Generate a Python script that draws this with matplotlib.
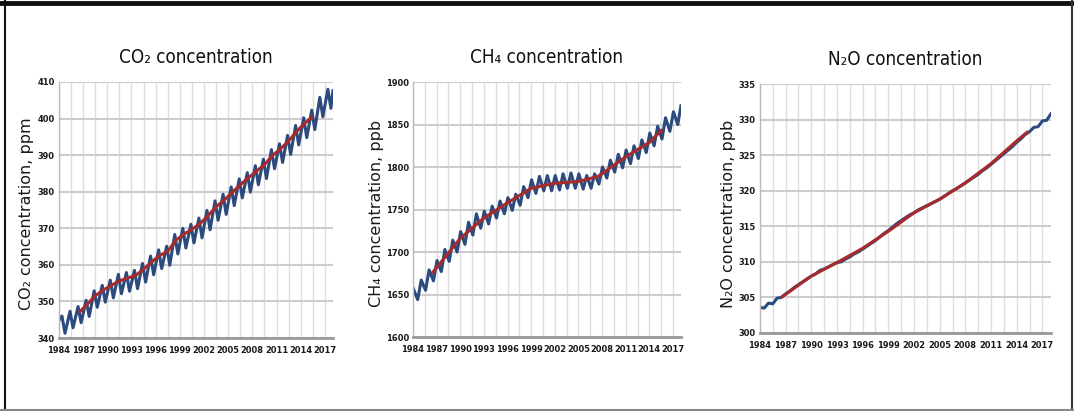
import matplotlib
matplotlib.use("Agg")
import matplotlib.pyplot as plt
from matplotlib import font_manager
from matplotlib.font_manager import FontProperties
from matplotlib.lines import Line2D

# --- data ------------------------------------------------------------------
years = list(range(1984, 2018))

# CO2 (ppm): spring peaks and autumn troughs per year
co2_peak = [346.0, 347.3, 348.6, 350.3, 352.9, 354.4, 355.8, 357.4, 357.9, 358.5,
            360.4, 362.4, 364.1, 365.1, 368.3, 370.0, 371.1, 372.8, 374.9, 377.5,
            379.3, 381.3, 383.5, 385.2, 387.1, 388.9, 391.5, 393.1, 395.4, 398.1,
            400.2, 402.3, 405.8, 408.0]
co2_trough = [341.3, 342.8, 344.2, 345.9, 348.4, 349.8, 351.0, 352.1, 352.8, 353.5,
              355.3, 357.3, 359.0, 359.9, 363.0, 364.6, 366.0, 367.4, 369.6, 372.2,
              373.8, 376.2, 378.3, 379.9, 381.9, 383.6, 386.3, 388.0, 390.2, 392.8,
              394.8, 397.0, 400.5, 402.8]
co2_start, co2_end = 344.8, 407.6
co2_trend_x = [1986.6] + [y + 0.5 for y in range(1987, 2015)] + [2015.4]
co2_trend = [347.2, 349.2, 351.6, 353.1, 354.4, 355.6, 356.4, 357.1, 358.8, 360.8,
             362.6, 363.7, 366.7, 368.4, 369.7, 371.3, 373.4, 375.9, 377.7, 379.8,
             381.9, 383.8, 385.6, 387.4, 389.9, 391.7, 393.9, 396.5, 398.7, 400.4]

# CH4 (ppb): winter peaks and summer troughs per year
ch4_peak = [1657, 1667, 1679, 1690, 1703, 1714, 1724, 1735, 1745, 1748,
            1754, 1760, 1764, 1768, 1777, 1785, 1789, 1790, 1790, 1792,
            1793, 1792, 1790, 1792, 1800, 1808, 1815, 1820, 1825, 1832,
            1840, 1848, 1858, 1865]
ch4_trough = [1644, 1655, 1666, 1677, 1689, 1700, 1709, 1720, 1728, 1733,
              1740, 1745, 1749, 1755, 1764, 1769, 1772, 1772, 1773, 1775,
              1775, 1774, 1775, 1780, 1787, 1794, 1799, 1804, 1810, 1817,
              1825, 1833, 1842, 1850]
ch4_end = 1872
ch4_trend_x = [1986.5, 1990, 1993, 1996, 1999, 2002, 2005, 2007.5, 2011, 2014, 2015.5]
ch4_trend = [1676, 1716, 1740, 1758, 1775, 1781, 1783, 1789, 1812, 1829, 1843]

# N2O (ppb): half-yearly values
n2o_x = [1984 + 0.5 * i for i in range(69)]
n2o = [303.6, 303.5, 304.2, 304.1, 304.9, 305.0, 305.5, 305.9, 306.4, 306.8,
       307.2, 307.6, 308.0, 308.3, 308.8, 309.0, 309.3, 309.6, 309.9, 310.0,
       310.4, 310.7, 311.1, 311.4, 311.8, 312.2, 312.6, 313.0, 313.5, 314.0,
       314.4, 314.9, 315.4, 315.8, 316.2, 316.6, 316.9, 317.3, 317.6, 317.9,
       318.2, 318.5, 318.8, 319.2, 319.6, 320.0, 320.3, 320.7, 321.1, 321.5,
       321.9, 322.3, 322.8, 323.2, 323.7, 324.2, 324.7, 325.2, 325.7, 326.2,
       326.8, 327.3, 327.9, 328.3, 328.9, 329.0, 329.8, 329.9, 330.8]
n2o_trend_x = [1986.6, 1990, 1993, 1996, 1999, 2002, 2005, 2008, 2011, 2014, 2015.2]
n2o_trend = [305.1, 308.0, 309.9, 311.9, 314.3, 316.9, 318.8, 321.1, 323.8, 327.0, 328.2]

year_ticks = list(range(1984, 2018, 3))

BLUE = '#2b4a7d'
RED = '#a82a2a'


# condensed DejaVu if the machine has it, else Liberation Sans
def find_condensed(bold):
    for f in font_manager.fontManager.ttflist:
        w = str(f.weight)
        is_bold = w in ('700', 'bold')
        if f.name == 'DejaVu Sans' and 'condensed' in str(f.stretch) \
                and f.style == 'normal' and is_bold == bold:
            return f.fname
    return None


cond_regular = find_condensed(False)
cond_bold = find_condensed(True)


def narrow(size, bold=False):
    fname = cond_bold if (bold and cond_bold) else cond_regular
    if fname:
        return FontProperties(fname=fname, size=size)
    return FontProperties(family='Liberation Sans', size=size - 0.3,
                          weight='bold' if bold else 'normal')


TICK_FS, TITLE_FS = 6.7, 13.5


def seasonal(peaks, troughs, peak_off, trough_off, start=None, end=None):
    xs, ys = [], []
    if start is not None:
        xs.append(1984.0)
        ys.append(start)
    for y, p, t in zip(years, peaks, troughs):
        xs += [y + peak_off, y + trough_off]
        ys += [p, t]
    if end is not None:
        xs.append(2018.0)
        ys.append(end)
    return xs, ys


fig = plt.figure(figsize=(10.74, 4.11), dpi=100)

panels = [
    dict(rect=[0.0549, 0.1776, 0.2551, 0.6229], title='CO₂ concentration',
         ylabel='CO₂ concentration, ppm', ylim=(340, 410), step=10, ylab_x=27),
    dict(rect=[0.3845, 0.1800, 0.2495, 0.6204], title='CH₄ concentration',
         ylabel='CH₄ concentration, ppb', ylim=(1600, 1900), step=50, ylab_x=376),
    dict(rect=[0.7076, 0.1898, 0.2709, 0.6058], title='N₂O concentration',
         ylabel='N₂O concentration, ppb', ylim=(300, 335), step=5, ylab_x=728),
]

series = [
    (seasonal(co2_peak, co2_trough, 0.37, 0.75, co2_start, co2_end), (co2_trend_x, co2_trend)),
    (seasonal(ch4_peak, ch4_trough, 0.05, 0.6, None, ch4_end), (ch4_trend_x, ch4_trend)),
    ((n2o_x, n2o), (n2o_trend_x, n2o_trend)),
]

for p, ((bx, by), (rx, ry)) in zip(panels, series):
    ax = fig.add_axes(p['rect'])
    lo, hi = p['ylim']
    yt = list(range(lo, hi + 1, p['step']))
    ax.set_xlim(1984, 2018)
    ax.set_ylim(lo, hi)
    ax.set_xticks(year_ticks)
    ax.set_xticklabels([str(y) for y in year_ticks],
                       fontproperties=narrow(TICK_FS, bold=True), color='#1a1a1a')
    ax.set_xticks([1984 + 1.5 * i for i in range(23)], minor=True)
    ax.set_yticks(yt)
    ax.set_yticklabels([str(v) for v in yt],
                       fontproperties=narrow(TICK_FS, bold=True), color='#1a1a1a')
    ax.grid(True, which='both', axis='x', color='#dddddd', lw=1.0)
    ax.grid(True, axis='y', color='#cccccc', lw=1.5)
    ax.set_axisbelow(True)
    ax.tick_params(which='both', length=0)
    ax.tick_params(axis='x', pad=6)
    ax.tick_params(axis='y', pad=3)
    for s in ['top', 'right']:
        ax.spines[s].set_visible(False)
    ax.spines['bottom'].set_color('#999999')
    ax.spines['bottom'].set_linewidth(2)
    ax.spines['left'].set_color('#bbbbbb')
    ax.spines['left'].set_linewidth(1)

    ax.plot(bx, by, color=BLUE, lw=2.2, solid_joinstyle='round')
    ax.plot(rx, ry, color=RED, lw=2.2, solid_joinstyle='round')

    ax.set_title(p['title'], fontproperties=narrow(TITLE_FS), pad=14, color='#111111')
    fig.text(p['ylab_x'] / 1074, 0.48, p['ylabel'], rotation=90, ha='center',
             va='center', fontsize=11.5, color='#1a1a1a', family='DejaVu Sans')

# outer frame
fig.add_artist(Line2D([0, 1], [1 - 3.5 / 411] * 2, color='#111111', lw=3.5,
                      transform=fig.transFigure))
fig.add_artist(Line2D([4.5 / 1074] * 2, [0, 1], color='#111111', lw=1.5,
                      transform=fig.transFigure))
fig.add_artist(Line2D([1071.5 / 1074] * 2, [0, 1], color='#333333', lw=1.5,
                      transform=fig.transFigure))
fig.add_artist(Line2D([0, 1], [1.5 / 411] * 2, color='#888888', lw=1.5,
                      transform=fig.transFigure))

fig.savefig('out.png', dpi=100)
